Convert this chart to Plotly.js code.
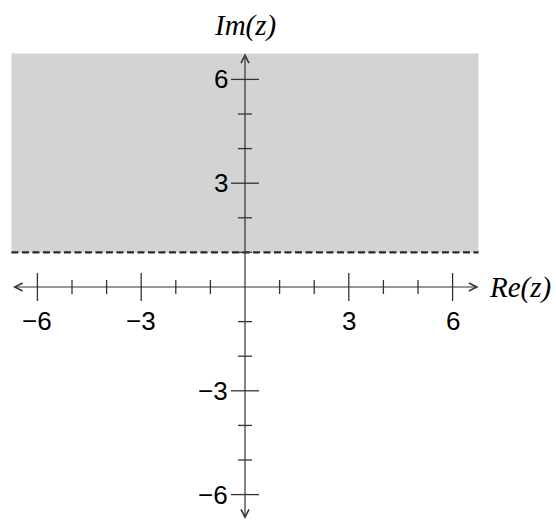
<!DOCTYPE html>
<html>
<head>
<meta charset="utf-8">
<script src="https://cdn.plot.ly/plotly-3.0.1.min.js"></script>
<style>html,body{margin:0;padding:0;background:#fff;}#chart{width:556px;height:520px;}</style>
</head>
<body>
<div id="chart"></div>
<script>
// ---- data ----
const regionX = [-6.75, 6.75, 6.75, -6.75];
const regionY = [1, 1, 6.75, 6.75];
const boundaryX = [-6.75, 6.75];
const boundaryY = [1, 1];
const axisExtent = 6.75;
const majorTicks = [-6, -3, 3, 6];
const minorTicks = [-5, -4, -2, -1, 1, 2, 4, 5];
const tickLabels = ['\u22126', '\u22123', '3', '6'];
const xTitle = 'Re(z)';
const yTitle = 'Im(z)';

const ink = '#333333';
const zeros = a => a.map(() => 0);

const traces = [
  { x: regionX, y: regionY, type: 'scatter', mode: 'lines', fill: 'toself',
    fillcolor: '#d3d3d3', line: { width: 0 }, hoverinfo: 'skip' },
  { x: boundaryX, y: boundaryY, type: 'scatter', mode: 'lines',
    line: { color: '#2a2a2a', width: 2.2, dash: '7px,3.5px' }, hoverinfo: 'skip' },
  // x ticks
  { x: majorTicks, y: zeros(majorTicks), type: 'scatter', mode: 'markers',
    marker: { symbol: 'line-ns', size: 20, line: { color: ink, width: 1.3 } }, hoverinfo: 'skip' },
  { x: minorTicks, y: zeros(minorTicks), type: 'scatter', mode: 'markers',
    marker: { symbol: 'line-ns', size: 10, line: { color: ink, width: 1.3 } }, hoverinfo: 'skip' },
  // y ticks
  { x: zeros(majorTicks), y: majorTicks, type: 'scatter', mode: 'markers',
    marker: { symbol: 'line-ew', size: 20, line: { color: ink, width: 1.3 } }, hoverinfo: 'skip' },
  { x: zeros(minorTicks), y: minorTicks, type: 'scatter', mode: 'markers',
    marker: { symbol: 'line-ew', size: 10, line: { color: ink, width: 1.3 } }, hoverinfo: 'skip' }
];

const labelFont = { family: 'Liberation Sans, Arial, sans-serif', size: 26, color: '#000' };
const titleFont = { family: 'Liberation Serif, Times New Roman, serif', size: 29, color: '#000' };

const annotations = [];
// axis arrows
annotations.push({ x: axisExtent, y: 0, ax: -axisExtent, ay: 0, xref: 'x', yref: 'y', axref: 'x', ayref: 'y',
  text: '', showarrow: true, arrowside: 'end+start', arrowhead: 5, startarrowhead: 5,
  arrowsize: 1.3, startarrowsize: 1.3, arrowwidth: 1.2, arrowcolor: ink, standoff: 0, startstandoff: 0 });
annotations.push({ x: 0, y: axisExtent, ax: 0, ay: -axisExtent, xref: 'x', yref: 'y', axref: 'x', ayref: 'y',
  text: '', showarrow: true, arrowside: 'end+start', arrowhead: 5, startarrowhead: 5,
  arrowsize: 1.3, startarrowsize: 1.3, arrowwidth: 1.2, arrowcolor: ink, standoff: 0, startstandoff: 0 });
// tick labels
majorTicks.forEach((v, i) => {
  annotations.push({ x: v, y: 0, xref: 'x', yref: 'y', text: tickLabels[i], showarrow: false,
    xanchor: 'center', yanchor: 'middle', yshift: -34, font: labelFont });
  annotations.push({ x: 0, y: v, xref: 'x', yref: 'y', text: tickLabels[i], showarrow: false,
    xanchor: 'right', yanchor: 'middle', xshift: -15, font: labelFont });
});
// axis titles
annotations.push({ x: 0, y: 1, xref: 'x', yref: 'paper', text: '<i>' + yTitle + '</i>', showarrow: false,
  xanchor: 'center', yanchor: 'middle', yshift: -25, font: titleFont });
annotations.push({ x: axisExtent, y: 0, xref: 'x', yref: 'y', text: '<i>' + xTitle + '</i>', showarrow: false,
  xanchor: 'left', yanchor: 'middle', xshift: 8, font: titleFont });

const hiddenAxis = { showgrid: false, zeroline: false, showline: false, showticklabels: false, ticks: '', fixedrange: true };

const layout = {
  width: 556, height: 520,
  margin: { l: 0, r: 0, t: 0, b: 0 },
  paper_bgcolor: '#ffffff', plot_bgcolor: '#ffffff',
  showlegend: false,
  xaxis: Object.assign({ range: [-7.0809, 8.9884] }, hiddenAxis),
  yaxis: Object.assign({ range: [-6.7341, 8.2948] }, hiddenAxis),
  annotations: annotations
};

Plotly.newPlot('chart', traces, layout, { displayModeBar: false, staticPlot: true });
</script>
</body>
</html>
